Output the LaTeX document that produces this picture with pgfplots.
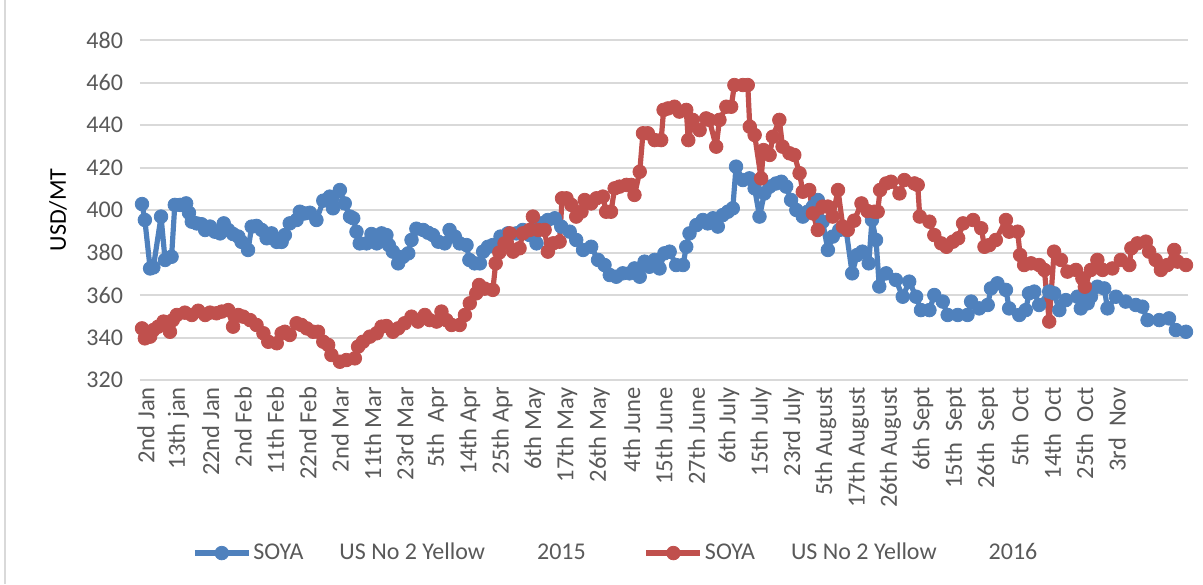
\documentclass[border=0pt]{standalone}
\usepackage{pgfplots}
\pgfplotsset{compat=1.18}
\usepackage{fontspec}
\setmainfont{Carlito}
\definecolor{sblue}{HTML}{4F81BD}
\definecolor{sred}{HTML}{C0504D}
\definecolor{tickgray}{HTML}{595959}
\definecolor{gridgray}{HTML}{D9D9D9}
\begin{document}
\begin{tikzpicture}
\useasboundingbox (-70pt,-102pt) rectangle (531.5pt,190pt);
\draw[gridgray, line width=1pt] (-67.5pt,-102pt) -- (-67.5pt,190pt);
\begin{axis}[
  scale only axis, width=524pt, height=170pt,
  at={(0,0)}, anchor=south west,
  xmin=-0.5, xmax=258.5, ymin=320, ymax=480,
  ytick={320,340,...,480},
  xtick={0,8,...,240},
  xticklabels={2nd Jan,13th jan,22nd Jan,2nd Feb,11th Feb,22nd Feb,2nd Mar,11th Mar,23rd Mar,5th\ \ Apr,14th Apr,25th Apr,6th May,17th May,26th May,4th June,15th June,27th June,6th July,15th July,23rd July,5th August,17th August,26th August,6th Sept,15th\ \ Sept,26th\ \ Sept,5th\ \ Oct,14th\ \ Oct,25th\ \ Oct,3rd\ \ Nov},
  axis line style={draw=none},
  major tick length=0pt,
  ymajorgrids,
  grid style={gridgray, line width=1pt},
  /pgf/number format/assume math mode=true,
  yticklabel style={font=\fontsize{12}{14}\selectfont, text=tickgray, xshift=-5pt},
  xticklabel style={font=\fontsize{12.3}{14}\selectfont, text=tickgray, rotate=90, anchor=east, yshift=-2pt},
  ylabel={USD/MT},
  every axis y label/.style={at={([xshift=-41pt]axis description cs:0,0.5)}, rotate=90, anchor=center, font=\fontsize{12}{14}\selectfont, text=black},
  legend style={at={(0.454,-0.509)}, anchor=center, draw=none, fill=none, legend columns=2,
    font=\fontsize{12}{14}\selectfont, text=tickgray,
    /tikz/every even column/.append style={column sep=28pt},
    nodes={inner xsep=1pt}},
  legend cell align=left,
  legend image code/.code={\draw[mark repeat=2,mark phase=2,#1] plot coordinates {(0pt,0pt) (13.5pt,0pt) (27pt,0pt)};},
]
\addplot[sblue, line width=2.6pt, line join=round, mark=*, mark size=3.4pt, mark options={fill=sblue, draw=sblue, line width=0.4pt}] coordinates {
(0,402.8)(0.7,395.3)(2.0,372.5)(2.8,373)(4.7,396.9)(5.7,376.5)(7.3,378)(8.1,402.4)(9.4,402.4)(10.9,403.1)(11.6,398.7)(12.3,394.5)(13.5,393.7)(14.7,393.3)(15.6,390.6)(16.8,392.2)(18.0,389.8)(19.3,389)(20.2,393.7)(21.3,390.6)(22.5,388.7)(23.8,387.5)(24.6,385)(26.2,381.2)(27.1,392.2)(28.3,392.5)(29.6,390.6)(30.8,386.7)(32.0,389)(33.3,385)(34.5,385)(35.3,388.2)(36.5,393.7)(38.2,395.3)(39.0,399.2)(40.2,398.4)(41.5,398.7)(43.1,395.3)(44.8,404.4)(46.4,406.3)(47.2,400.8)(48.9,409.4)(50.1,403.1)(51.4,396.9)(52.2,396.1)(53.0,389.8)(53.8,384.3)(55.5,384.3)(56.7,388.7)(58.0,384.3)(59.2,389)(60.4,388.2)(61.0,383.5)(62.0,380.4)(63.3,374.9)(64.5,378)(65.8,379.6)(66.6,385.9)(67.8,391.2)(69.5,390.6)(70.7,389.3)(71.9,388.2)(73.2,385.1)(74.8,384.3)(76.0,390.6)(77.3,387.5)(78.5,384.3)(80.2,383.5)(80.9,376.5)(82.2,374.9)(83.5,374.9)(84.3,380.4)(85.5,382.7)(86.7,383.5)(88.6,387.5)(90.4,389)(92.5,389)(94.1,390.6)(95.8,388.2)(97.5,384.3)(98.7,393.7)(100.3,395.3)(102.0,396.1)(103.6,392.2)(105.7,389.8)(107.3,385.9)(109.0,381.2)(111.0,382.7)(112.7,376.5)(114.3,374.1)(115.6,369.4)(117.2,368.6)(118.8,370.2)(120.5,370.2)(121.7,372.5)(123.0,368.6)(124.2,375.7)(125.4,373.3)(126.7,376.5)(127.9,372.5)(129.1,379.6)(130.4,380.4)(132.0,374.1)(133.7,374.1)(134.5,382.7)(135.3,389)(137.0,392.9)(138.6,395.3)(139.8,393.7)(141.1,396.1)(142.3,392.2)(143.5,397.6)(144.8,399.2)(146.0,400.8)(146.8,420.4)(148.5,414.1)(150.1,414.9)(151.4,410.2)(152.6,396.9)(153.8,407.8)(155.1,411)(156.7,412.5)(158.0,413.3)(159.2,411)(160.4,404.7)(161.7,400)(163.3,396.9)(164.5,399.2)(165.8,401.6)(167.0,404.7)(168.2,394.5)(169.5,381.2)(170.7,387.5)(172.3,390.6)(174.0,390.6)(175.5,370.2)(176.7,378.8)(178.0,380.4)(179.6,374.9)(180.4,395.3)(181.4,385.9)(182.2,364)(183.9,370.2)(186.3,367.1)(188.0,359.2)(189.6,366.3)(191.3,359.2)(192.5,352.9)(194.6,352.9)(195.8,360)(197.9,356.9)(199.1,350.6)(201.6,350.6)(204.0,350.6)(204.9,356.9)(206.9,353.7)(209.0,355.3)(209.8,363.1)(211.4,365.5)(213.5,362.4)(214.3,353.7)(216.8,350.6)(218.4,352.9)(219.2,360.8)(220.5,361.6)(221.7,355.3)(224.2,361.6)(225.4,360.8)(226.7,352.9)(228.3,357.6)(231.2,359.2)(232.0,353.7)(233.7,356.1)(234.5,359.2)(236.1,363.9)(237.8,363.1)(238.6,353.7)(240.7,359.2)(243.1,356.9)(245.6,355.3)(247.2,354.5)(248.5,348.2)(251.4,348.2)(253.8,349)(255.5,343.5)(258.0,342.7)
};
\addlegendentry{SOYA\hspace{18pt}US No 2 Yellow\hspace{26pt}2015}
\addplot[sred, line width=2.6pt, line join=round, mark=*, mark size=3.4pt, mark options={fill=sred, draw=sred, line width=0.4pt}] coordinates {
(0,344.3)(0.7,339.6)(2.0,340.4)(2.8,343.5)(4.0,345.1)(5.3,347.5)(6.9,342.7)(7.6,348.2)(8.6,350.6)(10.6,351.7)(12.3,350.6)(13.9,352.6)(15.6,350.6)(16.8,351.7)(18.4,351.4)(19.7,352.2)(21.3,352.9)(22.5,345.1)(23.8,350.6)(25.0,349.8)(26.7,348.2)(28.3,345.9)(30.0,342)(31.2,338)(33.3,337.3)(34.5,342)(35.3,342.7)(36.5,341.2)(38.2,346.7)(39.4,345.9)(40.7,344.3)(42.3,342.7)(43.5,342.7)(44.8,338)(46.0,336.5)(46.8,331.8)(48.9,328.6)(50.5,329.4)(52.6,330.2)(53.4,335.7)(54.6,338)(56.3,340.4)(58.0,342)(59.2,345.1)(60.4,345.4)(62.0,342.7)(63.3,344.3)(64.9,346.7)(66.6,349.8)(68.2,347.5)(69.9,350.6)(71.1,348.2)(72.8,347.5)(74.0,352.2)(75.2,348.2)(76.5,345.9)(78.5,345.9)(79.8,350.6)(81.0,356.1)(82.6,360.8)(83.3,364.7)(84.7,363)(86.7,362.4)(87.4,374.9)(88.3,380)(89.6,384.3)(90.9,389)(91.7,380.4)(93.3,382)(94.1,389)(95.8,390.6)(96.6,396.9)(97.9,390.6)(99.5,390.6)(100.3,380.4)(101.6,384.3)(103.2,385.1)(103.8,405.5)(104.9,405.5)(106.1,402.4)(107.3,396.9)(108.6,399.2)(109.4,404.7)(111.0,403.1)(112.3,405.5)(113.9,406.3)(114.7,399.2)(115.9,399.2)(116.8,410.2)(118.0,411)(119.7,411.8)(120.9,411.8)(121.7,407.1)(123.0,418)(123.8,436.1)(125.0,436.1)(126.7,432.9)(128.3,432.9)(128.9,447.1)(130.0,447.8)(131.6,448.6)(132.8,446.3)(134.5,447.1)(135.0,432.9)(136.1,442.4)(137.8,437.6)(139.4,443.1)(140.2,442.4)(141.9,429.8)(142.7,442.4)(144.4,448.6)(145.6,448.6)(146.4,458.8)(148.5,458.8)(149.7,458.8)(150.2,439.2)(151.4,435.3)(153.0,414.9)(153.6,428.2)(155.1,425.9)(155.9,434.5)(157.5,442.4)(158.3,429.8)(160.0,426.7)(161.2,425.9)(162.5,417.3)(163.3,408.6)(164.9,409.4)(165.8,398.4)(167.0,390.6)(168.2,401.6)(169.5,401.6)(170.7,396.9)(172.0,409.4)(173.2,392.2)(174.4,390.6)(176.0,395)(177.8,403.1)(179.3,399.5)(181.0,399.2)(181.8,399.2)(182.4,409.4)(183.9,412.5)(185.1,413.3)(187.2,407.8)(188.4,414.1)(190.9,412.5)(191.7,411.8)(192.2,396.9)(194.6,394.5)(195.8,388.2)(197.5,384.3)(198.8,382.7)(200.4,385.1)(201.7,386.7)(202.9,393.7)(205.4,395.3)(207.4,391.4)(208.2,382.7)(209.4,383.5)(211.0,385.9)(213.5,395.3)(214.3,389.8)(216.4,389.8)(217.0,378.8)(218.0,374.1)(219.7,374.9)(221.7,374.1)(223.0,371.8)(224.2,347.5)(225.4,380.4)(227.1,376.5)(228.7,371)(230.8,371.8)(232.4,367.8)(233.0,363.9)(234.5,371.8)(236.1,376.5)(237.4,371.8)(239.8,372.5)(241.9,376.5)(244.0,374.1)(244.5,382)(246.0,384.3)(248.1,385.1)(248.9,380.4)(250.5,376.5)(251.8,371.8)(253.4,374.1)(255.1,381.2)(255.9,375.7)(258.0,374.1)
};
\addlegendentry{SOYA\hspace{18pt}US No 2 Yellow\hspace{26pt}2016}
\end{axis}
\end{tikzpicture}
\end{document}
